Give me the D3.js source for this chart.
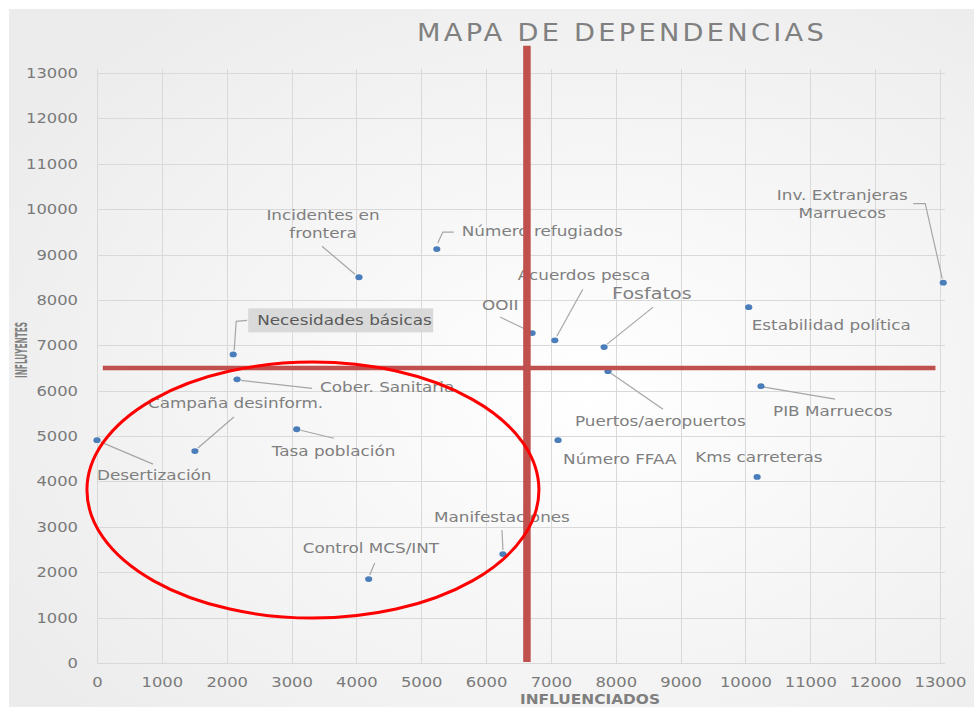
<!DOCTYPE html>
<html>
<head>
<meta charset="utf-8">
<script src="https://cdn.jsdelivr.net/npm/d3@7"></script>
<style>
    body { margin: 0; background: #fff; }
    text { font-family: "DejaVu Sans", sans-serif; }
</style>
</head>
<body>
<svg id="chart"></svg>
<script>
"use strict";

// Values
const names = [
    "Incidentes en frontera", "Número refugiados", "Inv. Extranjeras Marruecos",
    "Estabilidad política", "OOII", "Acuerdos pesca", "Fosfatos",
    "Necesidades básicas", "Cober. Sanitaria", "Campaña desinform.",
    "Desertización", "Tasa población", "Control MCS/INT", "Manifestaciones",
    "Puertos/aeropuertos", "PIB Marruecos", "Número FFAA", "Kms carreteras"
];
const influenciados = [4040, 5240, 13050, 10050, 6710, 7060, 7820, 2100, 2160,
                       1510, 0, 3080, 4190, 6260, 7880, 10240, 7110, 10180];
const influyentes = [8500, 9120, 8380, 7840, 7270, 7110, 6960, 6800, 6250,
                     4670, 4910, 5150, 1850, 2400, 6430, 6100, 4910, 4100];
const tick_values = [0, 1000, 2000, 3000, 4000, 5000, 6000, 7000, 8000, 9000,
                     10000, 11000, 12000, 13000];

// Quadrant split and the circled cluster, in data units
const cut_x = 6630;
const cut_y = 6500;
const cluster = {cx: 3330, cy: 3810, rx: 3485, ry: 2820};

// The original text is horizontally stretched, so glyphs get widened by this factor
const STRETCH = 1.16;

// Label placement relative to each point (pixels): text offset, anchor, leader polyline
const label_layout = {
    "Incidentes en frontera":     {dx: -36, dy: -57, anchor: "middle", lines: ["Incidentes en", "frontera"], leader: [[-4, -3], [-37, -31]]},
    "Número refugiados":          {dx: 25, dy: -13, leader: [[1, -6], [6, -17], [17, -17]]},
    "Inv. Extranjeras Marruecos": {dx: -101, dy: -83, anchor: "middle", lines: ["Inv. Extranjeras", "Marruecos"], leader: [[-30, -79], [-18, -79], [-1, -4]]},
    "Estabilidad política":       {dx: 3, dy: 23},
    "OOII":                       {dx: -50, dy: -23, leader: [[-32, -16], [-3, -2]]},
    "Acuerdos pesca":             {dx: -37, dy: -60, leader: [[28, -51], [2, -4]]},
    "Fosfatos":                   {dx: 8, dy: -48, size: 16.5, leader: [[49, -40], [3, -3]]},
    "Necesidades básicas":        {dx: 24, dy: -29, box: true, leader: [[1, -4], [3, -33], [14, -34]]},
    "Cober. Sanitaria":           {dx: 83, dy: 13, leader: [[4, 1], [75, 9]]},
    "Campaña desinform.":         {dx: -47, dy: -43, leader: [[39, -34], [3, -3]]},
    "Desertización":              {dx: 0, dy: 40, leader: [[4, 2], [56, 24]]},
    "Tasa población":             {dx: -25, dy: 27, leader: [[4, 1], [37, 9]]},
    "Control MCS/INT":            {dx: -66, dy: -26, leader: [[6, -16], [1, -4]]},
    "Manifestaciones":            {dx: -69, dy: -32, leader: [[-1, -24], [0, -4]]},
    "Puertos/aeropuertos":        {dx: -33, dy: 55, leader: [[3, 2], [55, 38]]},
    "PIB Marruecos":              {dx: 12, dy: 30, leader: [[3, 1], [74, 13]]},
    "Número FFAA":                {dx: 5, dy: 24},
    "Kms carreteras":             {dx: -62, dy: -15}
};

const width = 974;
const height = 707;
const margins = {top: 73, right: 34, bottom: 44, left: 97};

const x_scale = d3.scaleLinear().domain([0, 13000]).range([margins.left, width - margins.right]);
const y_scale = d3.scaleLinear().domain([0, 13000]).range([height - margins.bottom, margins.top]);

const svg = d3.select("#chart")
    .attr("width", width)
    .attr("height", height);

svg.append("rect")
    .attr("width", width)
    .attr("height", height)
    .attr("fill", "#fff");

// Soft grey chart-area background
const grad = svg.append("defs").append("radialGradient")
    .attr("id", "bg")
    .attr("cx", "60%").attr("cy", "55%").attr("r", "70%");
grad.append("stop").attr("offset", "0%").attr("stop-color", "#ffffff");
grad.append("stop").attr("offset", "100%").attr("stop-color", "#ececec");

svg.append("rect")
    .attr("x", 9).attr("y", 9)
    .attr("width", width - 9).attr("height", height - 9)
    .attr("fill", "url(#bg)");

svg.append("text")
    .attr("x", 622)
    .attr("y", 41)
    .attr("text-anchor", "middle")
    .attr("textLength", 410)
    .attr("lengthAdjust", "spacingAndGlyphs")
    .attr("letter-spacing", 3)
    .attr("font-size", 25)
    .attr("fill", "#808080")
    .text("MAPA DE DEPENDENCIAS");

// Grid lines
const grid = svg.append("g").attr("stroke", "#d9d9d9").attr("stroke-width", 1);
grid.selectAll(".vgrid")
    .data(tick_values)
    .join("line")
    .attr("x1", d => Math.round(x_scale(d)) + 0.5)
    .attr("x2", d => Math.round(x_scale(d)) + 0.5)
    .attr("y1", y_scale(13000) - 4)
    .attr("y2", y_scale(0));
grid.selectAll(".hgrid")
    .data(tick_values)
    .join("line")
    .attr("x1", x_scale(0))
    .attr("x2", x_scale(13000) + 5)
    .attr("y1", d => Math.round(y_scale(d)) + 0.5)
    .attr("y2", d => Math.round(y_scale(d)) + 0.5);

// Axes: only the tick labels are shown
const x_axis = d3.axisBottom(x_scale).tickValues(tick_values).tickSize(0).tickPadding(14).tickFormat(d3.format("d"));
const y_axis = d3.axisLeft(y_scale).tickValues(tick_values).tickSize(0).tickPadding(19).tickFormat(d3.format("d"));

svg.append("g")
    .attr("transform", "translate(0," + y_scale(0) + ")")
    .call(x_axis)
    .call(g => g.select(".domain").remove());
svg.append("g")
    .attr("transform", "translate(" + x_scale(0) + ",0)")
    .call(y_axis)
    .call(g => g.select(".domain").remove());
svg.selectAll(".tick text")
    .attr("font-family", "DejaVu Sans, sans-serif")
    .attr("font-size", 14)
    .attr("fill", "#7a7a7a")
    .attr("textLength", d => String(d).length * 10.4)
    .attr("lengthAdjust", "spacingAndGlyphs");

svg.append("text")
    .attr("x", 590)
    .attr("y", 704)
    .attr("text-anchor", "middle")
    .attr("textLength", 140)
    .attr("lengthAdjust", "spacingAndGlyphs")
    .attr("font-size", 13.5)
    .attr("font-weight", "bold")
    .attr("fill", "#7f7f7f")
    .text("INFLUENCIADOS");

svg.append("text")
    .attr("transform", "translate(27,350) rotate(-90)")
    .attr("text-anchor", "middle")
    .attr("textLength", 56)
    .attr("lengthAdjust", "spacingAndGlyphs")
    .attr("font-size", 16)
    .attr("font-weight", "bold")
    .attr("fill", "#7f7f7f")
    .text("INFLUYENTES");

const points = names.map((name, i) => ({
    name: name,
    px: x_scale(influenciados[i]),
    py: y_scale(influyentes[i]),
    layout: label_layout[name]
}));

// Leader lines
svg.append("g")
    .selectAll("path")
    .data(points.filter(p => p.layout.leader))
    .join("path")
    .attr("d", p => d3.line()(p.layout.leader.map(q => [p.px + q[0], p.py + q[1]])))
    .attr("fill", "none")
    .attr("stroke", "#a6a6a6")
    .attr("stroke-width", 1.2);

// Data labels
const labels = svg.append("g")
    .selectAll("g")
    .data(points)
    .join("g")
    .attr("transform", p => "translate(" + (p.px + p.layout.dx) + "," + (p.py + p.layout.dy) + ")");

labels.filter(p => p.layout.box)
    .append("rect")
    .attr("x", -9)
    .attr("y", -17)
    .attr("width", 185)
    .attr("height", 24)
    .attr("fill", "#d9d9d9");

labels.append("text")
    .attr("transform", "scale(" + STRETCH + ",1)")
    .attr("text-anchor", p => p.layout.anchor || "start")
    .attr("font-size", p => p.layout.size || 14.5)
    .attr("fill", p => p.layout.box ? "#595959" : "#7f7f7f")
    .selectAll("tspan")
    .data(p => p.layout.lines || [p.name])
    .join("tspan")
    .attr("x", 0)
    .attr("dy", (d, i) => i === 0 ? 0 : 18)
    .text(d => d);

// Points
svg.append("g")
    .selectAll("ellipse")
    .data(points)
    .join("ellipse")
    .attr("cx", p => p.px)
    .attr("cy", p => p.py)
    .attr("rx", 3.6)
    .attr("ry", 2.9)
    .attr("fill", "#4a7ebb");

// Quadrant lines
svg.append("line")
    .attr("x1", x_scale(cut_x))
    .attr("x2", x_scale(cut_x))
    .attr("y1", y_scale(13600))
    .attr("y2", y_scale(20))
    .attr("stroke", "#c0504d")
    .attr("stroke-width", 7.5);
svg.append("line")
    .attr("x1", x_scale(90))
    .attr("x2", x_scale(12930))
    .attr("y1", y_scale(cut_y))
    .attr("y2", y_scale(cut_y))
    .attr("stroke", "#c0504d")
    .attr("stroke-width", 4.5);

// Circled cluster
svg.append("ellipse")
    .attr("cx", x_scale(cluster.cx))
    .attr("cy", y_scale(cluster.cy))
    .attr("rx", x_scale(cluster.rx) - x_scale(0))
    .attr("ry", y_scale(0) - y_scale(cluster.ry))
    .attr("fill", "none")
    .attr("stroke", "#ff0000")
    .attr("stroke-width", 3);
</script>
</body>
</html>
